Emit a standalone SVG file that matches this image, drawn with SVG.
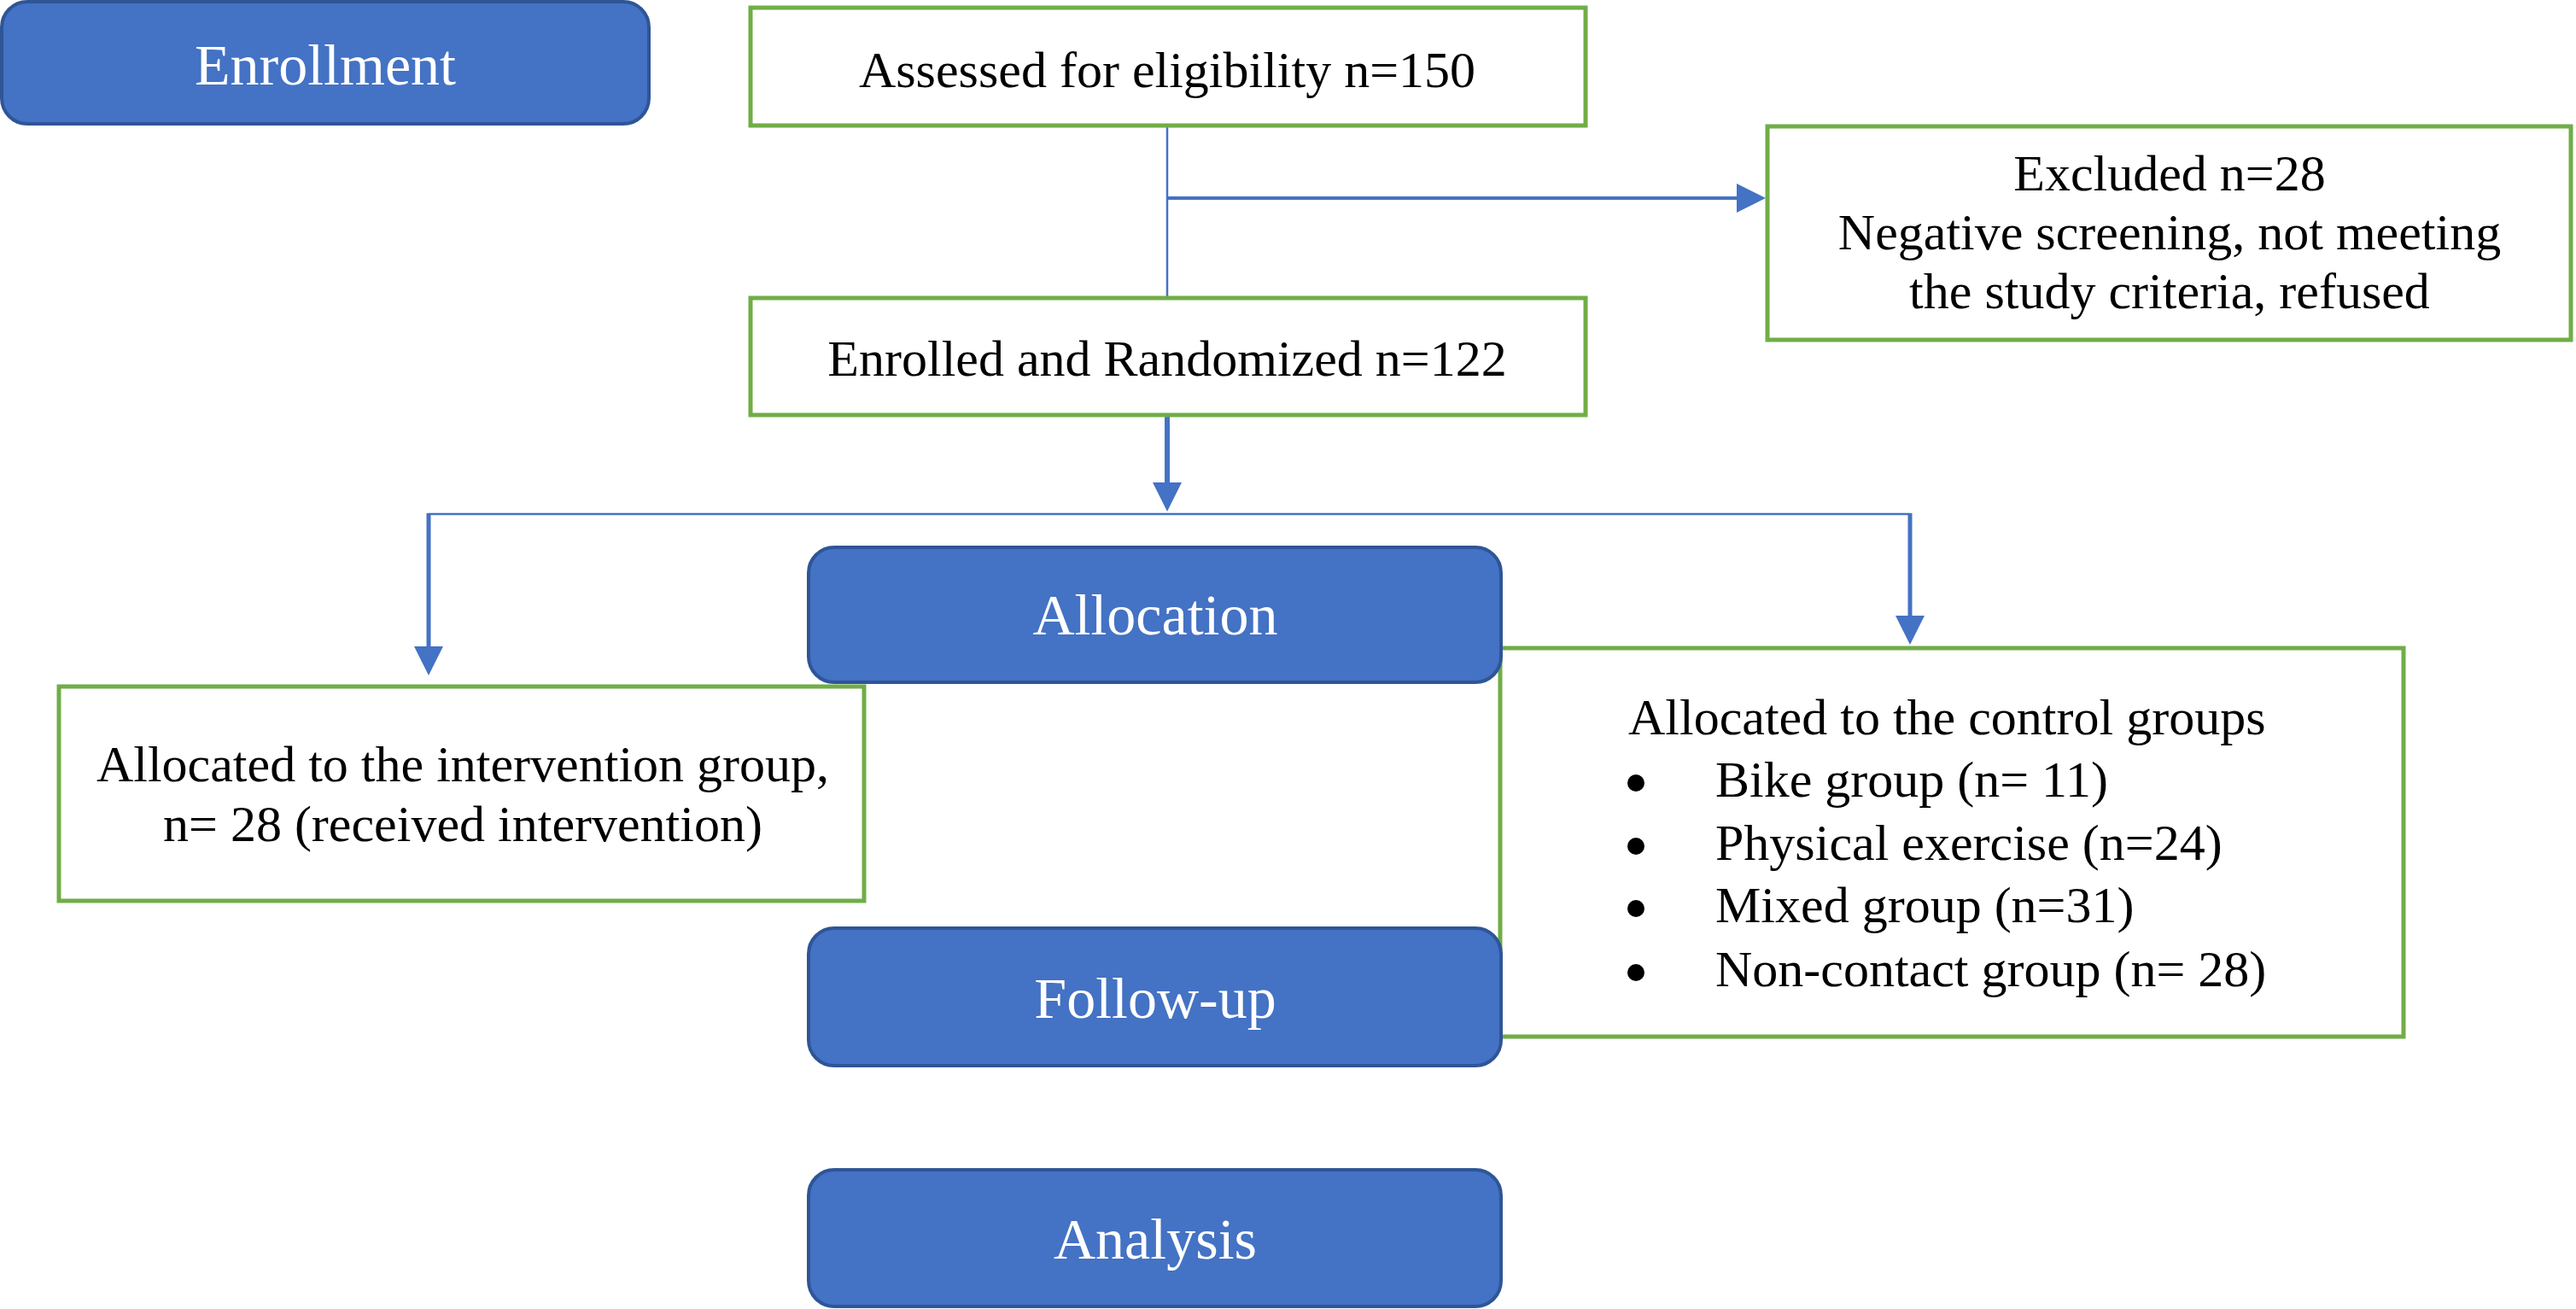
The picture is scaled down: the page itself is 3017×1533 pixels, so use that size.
<svg xmlns="http://www.w3.org/2000/svg" width="3017" height="1533" viewBox="0 0 3017 1533">
<style>
.g{fill:#fff;stroke:#70AD47;stroke-width:5}
.b{fill:#4472C4;stroke:#2F5597;stroke-width:4}
.t{font-family:"Liberation Serif","Times New Roman",serif;font-size:60px;fill:#000}
.c{text-anchor:middle}
.w{font-family:"Liberation Serif","Times New Roman",serif;font-size:68px;fill:#fff;text-anchor:middle}
.ln{fill:none;stroke:#4472C4}
</style>
<defs>
<marker id="ah" markerUnits="userSpaceOnUse" markerWidth="34" markerHeight="34" viewBox="0 0 34 34" refX="0" refY="17" orient="auto">
<path d="M0,0 L34,17 L0,34 z" fill="#4472C4"/>
</marker>
</defs>
<g id="connectors">
<path class="ln" stroke-width="2.5" d="M1367,149 V347"/>
<path class="ln" stroke-width="4" d="M1367,232 H2034" marker-end="url(#ah)"/>
<path class="ln" stroke-width="6" d="M1367,488 V565" marker-end="url(#ah)"/>
<path class="ln" stroke-width="2.5" d="M502,602 H2237"/>
<path class="ln" stroke-width="5" d="M502,601 V757" marker-end="url(#ah)"/>
<path class="ln" stroke-width="5" d="M2237,601 V721" marker-end="url(#ah)"/>
</g>
<g id="assessed">
<rect class="g" x="879" y="9" width="978" height="138"/>
<text class="t c" x="1367" y="102">Assessed for eligibility n=150</text>
</g>
<g id="excluded">
<rect class="g" x="2070" y="148" width="941" height="250"/>
<text class="t c" x="2541" y="223">Excluded n=28</text>
<text class="t c" x="2541" y="292">Negative screening, not meeting</text>
<text class="t c" x="2541" y="361">the study criteria, refused</text>
</g>
<g id="enrolled">
<rect class="g" x="879" y="349" width="978" height="137"/>
<text class="t c" x="1367" y="440">Enrolled and Randomized n=122</text>
</g>
<g id="intervention">
<rect class="g" x="69" y="804" width="943" height="251"/>
<text class="t c" x="542" y="915">Allocated to the intervention group,</text>
<text class="t c" x="542" y="985">n= 28 (received intervention)</text>
</g>
<g id="control">
<rect class="g" x="1757" y="759" width="1058" height="455"/>
<text class="t" x="1907" y="860">Allocated to the control groups</text>
<circle cx="1916" cy="917" r="10" fill="#000"/>
<text class="t" x="2009" y="933">Bike group (n= 11)</text>
<circle cx="1916" cy="991" r="10" fill="#000"/>
<text class="t" x="2009" y="1007">Physical exercise (n=24)</text>
<circle cx="1916" cy="1064" r="10" fill="#000"/>
<text class="t" x="2009" y="1080">Mixed group (n=31)</text>
<circle cx="1916" cy="1139" r="10" fill="#000"/>
<text class="t" x="2009" y="1155">Non-contact group (n= 28)</text>
</g>
<g id="enrollment">
<rect class="b" x="2" y="2" width="758" height="143" rx="30"/>
<text class="w" x="381" y="99">Enrollment</text>
</g>
<g id="allocation">
<rect class="b" x="947" y="641" width="811" height="158" rx="30"/>
<text class="w" x="1353" y="743">Allocation</text>
</g>
<g id="followup">
<rect class="b" x="947" y="1087" width="811" height="161" rx="30"/>
<text class="w" x="1353" y="1192">Follow-up</text>
</g>
<g id="analysis">
<rect class="b" x="947" y="1370" width="811" height="160" rx="30"/>
<text class="w" x="1353" y="1474">Analysis</text>
</g>
</svg>
